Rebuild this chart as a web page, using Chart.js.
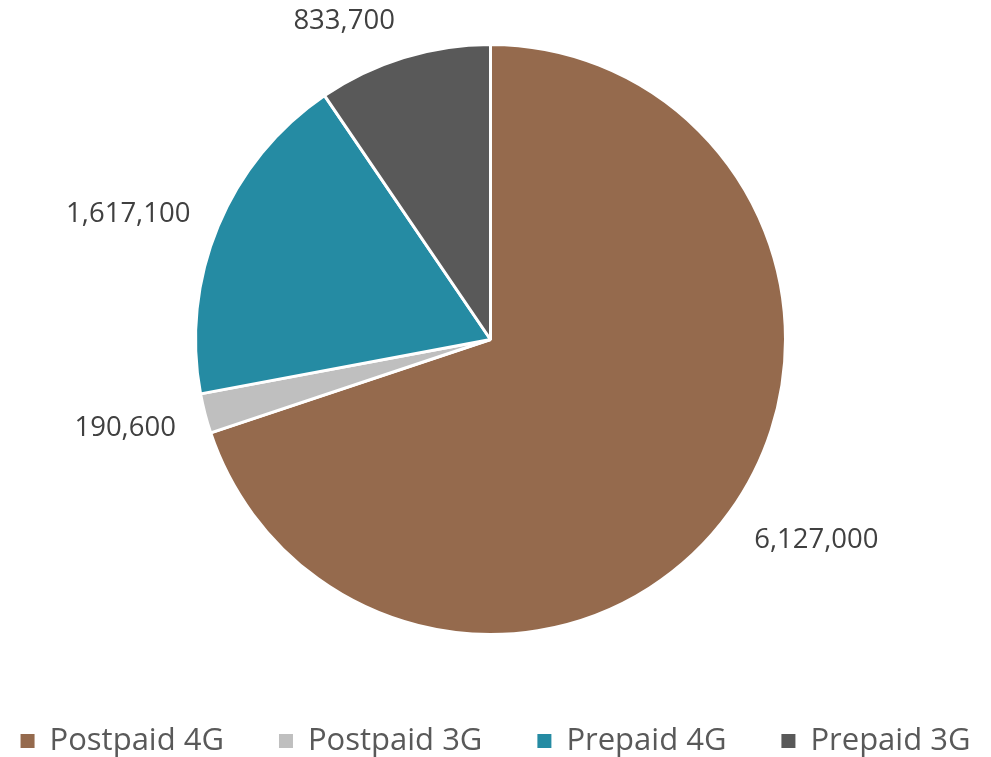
<!DOCTYPE html>
<html>
<head>
<meta charset="utf-8">
<script src="https://cdn.jsdelivr.net/npm/chart.js@4/dist/chart.umd.min.js"></script>
<style>
html,body{margin:0;padding:0;background:#fff;}
#wrap{width:991px;height:757px;position:relative;}
</style>
</head>
<body>
<div id="wrap"><canvas id="c" width="991" height="757"></canvas></div>
<script>
const categories = ["Postpaid 4G", "Postpaid 3G", "Prepaid 4G", "Prepaid 3G"];
const values = [6127000, 190600, 1617100, 833700];
const colors = ["#956A4D", "#BFBFBF", "#258BA3", "#595959"];

const FONT = "'Open Sans', sans-serif";

const outLabels = {
  id: 'outLabels',
  afterDatasetsDraw(chart) {
    const ctx = chart.ctx;
    const meta = chart.getDatasetMeta(0);
    ctx.save();
    ctx.font = "27.5px " + FONT;
    ctx.fillStyle = "#404040";
    ctx.textAlign = "center";
    ctx.textBaseline = "middle";
    meta.data.forEach((arc, i) => {
      const mid = (arc.startAngle + arc.endAngle) / 2;
      const dx = Math.cos(mid), dy = Math.sin(mid);
      const txt = values[i].toLocaleString('en-US');
      const w = ctx.measureText(txt).width;
      const h = 24;
      const r = arc.outerRadius + 30;
      const fx = Math.max(-1, Math.min(1, dx * 4));
      const x = arc.x + dx * r + fx * w / 2;
      const y = arc.y + dy * r + dy * h / 2 + 4;
      ctx.fillText(txt, x, y);
    });
    ctx.restore();
  }
};

const customLegend = {
  id: 'customLegend',
  afterDraw(chart) {
    const ctx = chart.ctx;
    ctx.save();
    ctx.font = "31px " + FONT;
    ctx.textBaseline = "alphabetic";
    ctx.textAlign = "left";
    const box = 14, textGap = 15, itemGap = 55;
    const widths = categories.map(c => box + textGap + ctx.measureText(c).width);
    const total = widths.reduce((a, b) => a + b, 0) + itemGap * (categories.length - 1);
    let x = (chart.width - total) / 2;
    const baseline = 750;
    categories.forEach((c, i) => {
      ctx.fillStyle = colors[i];
      ctx.fillRect(x, baseline - 16, box, box);
      ctx.fillStyle = '#595959';
      ctx.fillText(c, x + box + textGap, baseline);
      x += widths[i] + itemGap;
    });
    ctx.restore();
  }
};

new Chart(document.getElementById('c'), {
  type: 'pie',
  data: {
    labels: categories,
    datasets: [{
      data: values,
      backgroundColor: colors,
      borderColor: '#ffffff',
      borderWidth: 3
    }]
  },
  options: {
    responsive: false,
    animation: false,
    layout: { padding: { top: 43, left: 0, right: 10, bottom: 121 } },
    plugins: {
      tooltip: { enabled: false },
      legend: { display: false }
    }
  },
  plugins: [outLabels, customLegend]
});
</script>
</body>
</html>
